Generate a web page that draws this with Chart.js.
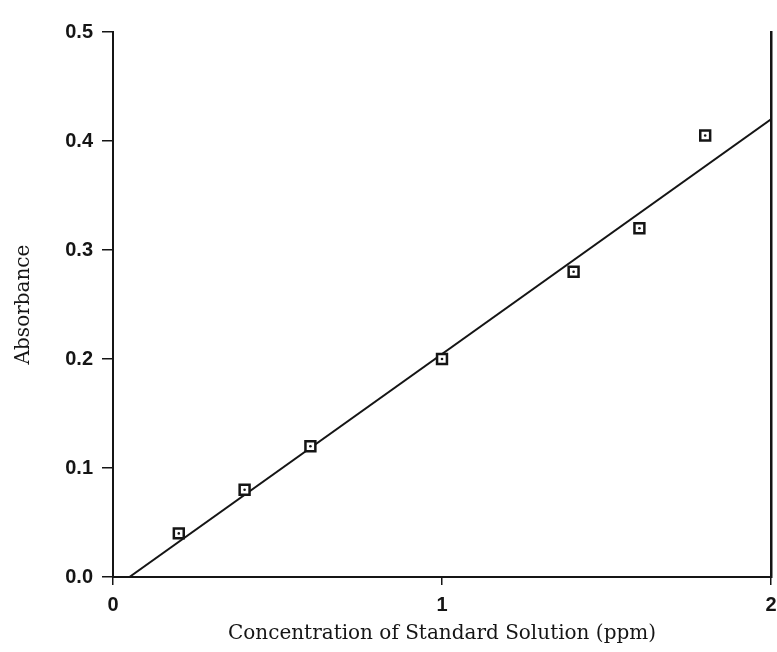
<!DOCTYPE html>
<html>
<head>
<meta charset="utf-8">
<script src="https://cdn.jsdelivr.net/npm/chart.js@4"></script>
<style>
  html, body { margin: 0; padding: 0; background: #fff; overflow: hidden; }
  #wrap { width: 777px; height: 652px; position: relative; }
</style>
</head>
<body>
<div id="wrap"><canvas id="calChart"></canvas></div>
<script>
// ---- data ----
const concentrations = [0.2, 0.4, 0.6, 1.0, 1.4, 1.6, 1.8];   // ppm
const absorbances    = [0.04, 0.08, 0.12, 0.20, 0.28, 0.32, 0.405];
const fitX = [0.05, 2.0];     // ends of the calibration line
const fitY = [0.0, 0.42];
const xTicks = [0, 1, 2];
const yTicks = [0.0, 0.1, 0.2, 0.3, 0.4, 0.5];

const INK = '#151515';
const SANS = "'Liberation Sans', Arial, sans-serif";
const SERIF = "'DejaVu Serif', 'Liberation Serif', serif";

const points = concentrations.map((x, i) => ({ x, y: absorbances[i] }));
const fitLine = fitX.map((x, i) => ({ x, y: fitY[i] }));

new Chart(document.getElementById('calChart'), {
  type: 'scatter',
  data: {
    datasets: [
      {
        type: 'line',
        label: 'fit',
        data: fitLine,
        borderColor: INK,
        borderWidth: 2,
        pointRadius: 0,
        fill: false,
        order: 3,
      },
      {
        label: 'standards',
        data: points,
        pointStyle: 'rect',
        pointRadius: 7,
        backgroundColor: '#fff',
        borderColor: INK,
        borderWidth: 2.5,
        order: 2,
      },
      {
        // small dot in the middle of each square
        label: 'centres',
        data: points,
        pointStyle: 'circle',
        pointRadius: 1.3,
        backgroundColor: INK,
        borderWidth: 0,
        order: 1,
      }
    ]
  },
  options: {
    responsive: true,
    maintainAspectRatio: false,
    animation: false,
    layout: { autoPadding: false, padding: { top: 32, right: 0, left: 0, bottom: 0 } },
    plugins: { legend: { display: false }, tooltip: { enabled: false } },
    scales: {
      x: {
        type: 'linear',
        min: 0, max: 2,
        afterBuildTicks: axis => { axis.ticks = xTicks.map(v => ({ value: v })); },
        afterFit: axis => { axis.height = 75; axis.paddingLeft = 0; axis.paddingRight = 6; },
        ticks: { color: INK, font: { family: SANS, size: 20, weight: 'bold' }, padding: 8, maxRotation: 0,
                 callback: v => String(v) },
        grid: { drawOnChartArea: false, drawTicks: true, tickLength: 8, color: INK, lineWidth: 1.5 },
        border: { display: true, color: INK, width: 2 },
        title: { display: true, text: 'Concentration of Standard Solution (ppm)',
                 color: INK, font: { family: SERIF, size: 20 }, padding: { top: 0, bottom: 6 } }
      },
      y: {
        type: 'linear',
        min: 0, max: 0.5,
        afterBuildTicks: axis => { axis.ticks = yTicks.map(v => ({ value: v })); },
        afterFit: axis => { axis.width = 113; },
        ticks: { color: INK, font: { family: SANS, size: 20, weight: 'bold' }, padding: 9,
                 callback: v => v.toFixed(1) },
        grid: { drawOnChartArea: false, drawTicks: true, tickLength: 11, color: INK, lineWidth: 1.5 },
        border: { display: true, color: INK, width: 2 },
        title: { display: true, text: 'Absorbance', color: INK,
                 font: { family: SERIF, size: 20 }, padding: { top: 12, bottom: 0 } }
      },
      yRight: {
        type: 'linear',
        position: 'right',
        min: 0, max: 0.5,
        afterFit: axis => { axis.width = 0; },
        ticks: { display: false },
        grid: { drawOnChartArea: false, drawTicks: false },
        border: { display: true, color: INK, width: 2.5 }
      }
    }
  }
});
</script>
</body>
</html>
